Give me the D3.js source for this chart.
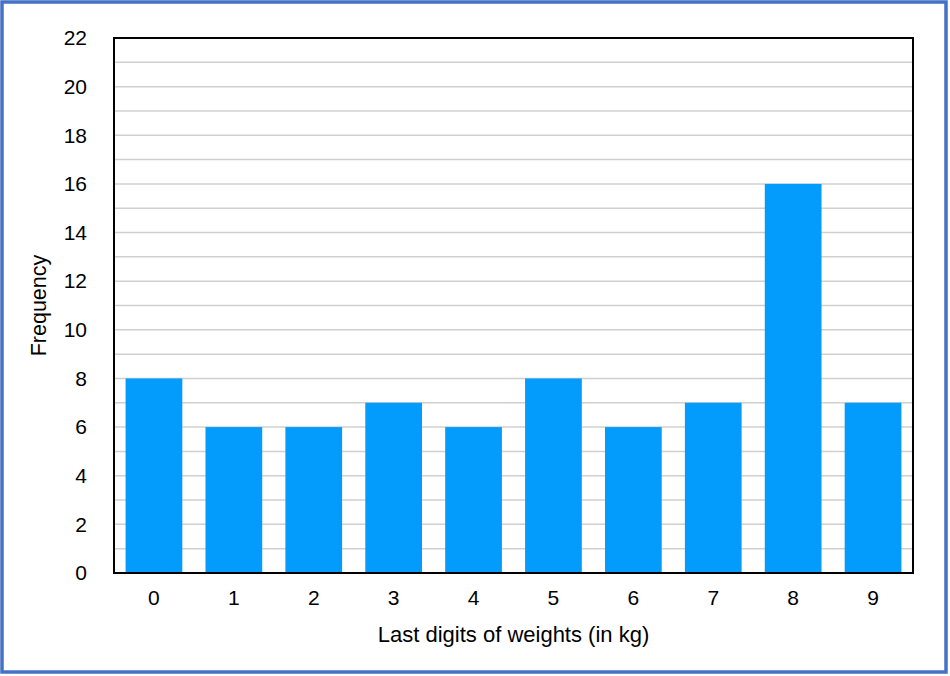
<!DOCTYPE html>
<html>
<head>
<meta charset="utf-8">
<script src="https://cdn.jsdelivr.net/npm/d3@7"></script>
<style>
body { margin: 0; background: #fff; }
svg { display: block; font-family: "Liberation Sans", Arial, sans-serif; }
</style>
</head>
<body>
<svg id="chart" width="950" height="676"></svg>
<script>
// data
const digits = ["0", "1", "2", "3", "4", "5", "6", "7", "8", "9"];
const counts = [8, 6, 6, 7, 6, 8, 6, 7, 16, 7];
const yTicks = [0, 2, 4, 6, 8, 10, 12, 14, 16, 18, 20, 22];

const svg = d3.select("#chart");
const W = 950, H = 676;
const m = {left: 114, right: 37, top: 38, bottom: 103};
const pw = W - m.left - m.right, ph = H - m.top - m.bottom;
const fs = 21;

// outer blue frame
svg.append("rect")
	.attr("x", 2).attr("y", 2)
	.attr("width", W - 6).attr("height", H - 6)
	.attr("fill", "none")
	.attr("stroke", "#4472c4")
	.attr("stroke-width", 3.5);

const x = d3.scaleBand().domain(digits).range([0, pw]).paddingInner(0.29).paddingOuter(0.145);
const y = d3.scaleLinear().domain([0, 22]).range([ph, 0]);

const g = svg.append("g").attr("transform", `translate(${m.left},${m.top})`);

// gridlines at every unit
g.append("g")
	.selectAll("line")
	.data(d3.range(1, 22))
	.join("line")
	.attr("x1", 0).attr("x2", pw)
	.attr("y1", d => y(d)).attr("y2", d => y(d))
	.attr("stroke", "#d0d0d0")
	.attr("stroke-width", 1.5);

g.append("g")
	.selectAll("rect")
	.data(counts)
	.join("rect")
	.attr("x", (d, i) => x(digits[i]))
	.attr("width", x.bandwidth())
	.attr("y", d => y(d))
	.attr("height", d => ph - y(d))
	.attr("fill", "#039cfd");

// frame
g.append("rect")
	.attr("width", pw).attr("height", ph)
	.attr("fill", "none")
	.attr("stroke", "#000")
	.attr("stroke-width", 2);

// y axis labels
const yAxis = g.append("g")
	.call(d3.axisLeft(y).tickValues(yTicks).tickSize(0).tickPadding(27));
yAxis.select(".domain").remove();
yAxis.selectAll("text").attr("font-size", fs).attr("fill", "#000").attr("font-family", "Liberation Sans, Arial, sans-serif");

// x axis labels
const xAxis = g.append("g")
	.attr("transform", `translate(0,${ph})`)
	.call(d3.axisBottom(x).tickSize(0).tickPadding(17));
xAxis.select(".domain").remove();
xAxis.selectAll("text").attr("font-size", fs).attr("fill", "#000").attr("font-family", "Liberation Sans, Arial, sans-serif");

svg.append("text")
	.attr("x", m.left + pw / 2).attr("y", 642)
	.attr("text-anchor", "middle")
	.attr("font-size", 22)
	.text("Last digits of weights (in kg)");

svg.append("text")
	.attr("transform", `translate(46,${m.top + ph / 2}) rotate(-90)`)
	.attr("text-anchor", "middle")
	.attr("font-size", 21.5)
	.text("Frequency");
</script>
</body>
</html>
